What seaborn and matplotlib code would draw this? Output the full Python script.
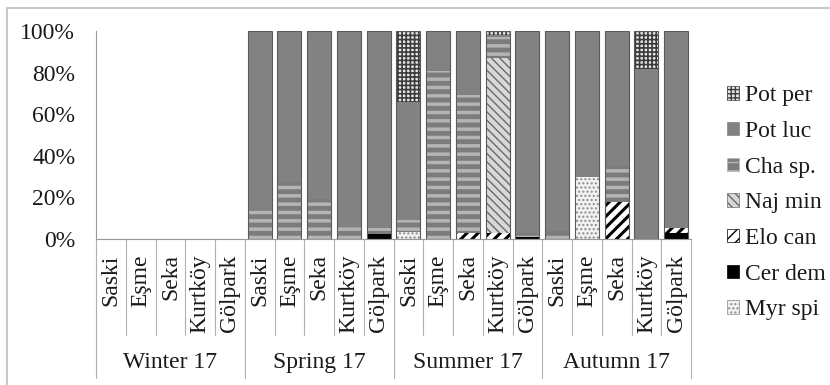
import numpy as np
import pandas as pd
import matplotlib as mpl
import matplotlib.pyplot as plt
import seaborn as sns
from matplotlib.patches import Patch
from matplotlib.lines import Line2D

### DATA ###
seasons = ["Winter 17", "Spring 17", "Summer 17", "Autumn 17"]
sites = ["Saski", "Eşme", "Seka", "Kurtköy", "Gölpark"]

# percent of each taxon, 5 sites per season (winter, spring, summer, autumn)
myr_spi = [0, 0, 0, 0, 0,  0, 0, 0, 0, 0,  3.5, 0, 0, 0, 0,  0, 30, 0, 0, 0]
cer_dem = [0, 0, 0, 0, 0,  0, 0, 0, 0, 2.5,  0, 0, 0, 0, 1,  0, 0, 0, 0, 3]
elo_can = [0, 0, 0, 0, 0,  0, 0, 0, 0, 0,  0, 0, 3, 3, 0,  0, 0, 18, 0, 2.5]
naj_min = [0, 0, 0, 0, 0,  0, 0, 0, 0, 0,  0, 0, 0, 84, 0,  0, 0, 0, 0, 0]
cha_sp = [0, 0, 0, 0, 0,  14.5, 27.5, 19, 6, 3,  5.5, 81, 66, 10, 2,  4, 0, 17, 0, 0]
pot_luc = [0, 0, 0, 0, 0,  85.5, 72.5, 81, 94, 94.5,  57, 19, 31, 1, 97,  96, 70, 65, 81.5, 94.5]
pot_per = [0, 0, 0, 0, 0,  0, 0, 0, 0, 0,  34, 0, 0, 2, 0,  0, 0, 0, 18.5, 0]

species = ["Myr spi", "Cer dem", "Elo can", "Naj min", "Cha sp.", "Pot luc", "Pot per"]
values = [myr_spi, cer_dem, elo_can, naj_min, cha_sp, pot_luc, pot_per]

# STYLE PER TAXON: facecolor, hatch, hatch colour, hatch width
styles = {
    "Myr spi": ("#f2f2f2", "....", "#8c8c8c", 1.0),
    "Cer dem": ("#000000", None, "#000000", 1.0),
    "Elo can": ("#ffffff", "///", "#000000", 2.2),
    "Naj min": ("#d8d8d8", "\\\\\\\\", "#6a6a6a", 1.0),
    "Cha sp.": ("#7c7c7c", "--", "#b4b4b4", 2.5),
    "Pot luc": ("#828282", None, "#828282", 1.0),
    "Pot per": ("#e8e8e8", "++++", "#3c3c3c", 1.2),
}

### PLOT ###
sns.set_style("white")
plt.rcParams['font.family'] = ['Liberation Serif', 'DejaVu Serif']
text_color = "#1a1a1a"
axis_color = "#9a9a9a"
fs = 17

fig = plt.figure(figsize=(8.3, 3.85), dpi=100)
ax = fig.add_axes([96 / 830, 1 - 239 / 385, (691 - 96) / 830, (239 - 31) / 385])

n = len(seasons) * len(sites)
pos = np.arange(n)
cum = np.cumsum(np.array(values, dtype=float), axis=0)

# DRAW TOP LAYER FIRST, EACH LOWER CUMULATIVE BAR COVERS THE ONE ABOVE
for i in range(len(species) - 1, -1, -1):
    face, hatch, hcol, hlw = styles[species[i]]
    df = pd.DataFrame({"pos": pos, "val": cum[i]})
    with plt.rc_context({'hatch.linewidth': hlw}):
        sns.barplot(data=df, x="pos", y="val", ax=ax, width=0.8,
                    facecolor=face, edgecolor=hcol, hatch=hatch, linewidth=0)
    for p in ax.patches:
        if getattr(p, "_done", False):
            continue
        p._done = True
        try:
            p.set_hatch_linewidth(hlw)
        except AttributeError:
            pass

# BAR OUTLINES
df = pd.DataFrame({"pos": pos, "val": cum[-1]})
sns.barplot(data=df, x="pos", y="val", ax=ax, width=0.8,
            facecolor="none", edgecolor="#5a5a5a", linewidth=0.8)

ax.set_xlim(-0.5, n - 0.5)
ax.set_ylim(0, 100)
ax.set_yticks([0, 20, 40, 60, 80, 100])
ax.set_yticklabels([f"{v}%" for v in [0, 20, 40, 60, 80, 100]], fontsize=fs, color=text_color)
ax.tick_params(axis="y", length=6, width=0.8, color=axis_color, pad=9)
ax.set_xticks(pos)
ax.set_xticklabels(sites * len(seasons), rotation=90, fontsize=fs, color=text_color, va="top")
ax.tick_params(axis="x", length=0, pad=11)
ax.set_xlabel("")
ax.set_ylabel("")
for s in ["top", "right"]:
    ax.spines[s].set_visible(False)
for s in ["left", "bottom"]:
    ax.spines[s].set_color(axis_color)
    ax.spines[s].set_linewidth(0.8)

# HIERARCHICAL X AXIS: SEPARATORS AND SEASON LABELS
trans = mpl.transforms.blended_transform_factory(ax.transData, ax.transAxes)
for k in range(n + 1):
    x = k - 0.5
    y_end = -0.668 if k % len(sites) == 0 else -0.462
    ax.add_line(Line2D([x, x], [0, y_end], transform=trans, color="#b0b0b0",
                       linewidth=0.8, clip_on=False))
for j, season in enumerate(seasons):
    xc = j * len(sites) + (len(sites) - 1) / 2
    ax.text(xc, -0.596, season, transform=trans, ha="center", va="center",
            fontsize=fs, color=text_color)

# LEGEND
handles = []
for name in species[::-1]:
    face, hatch, hcol, hlw = styles[name]
    handles.append(Patch(facecolor=face, edgecolor=hcol, hatch=hatch, linewidth=0.5, label=name))
leg = fig.legend(handles=handles, loc="upper left", bbox_to_anchor=(718 / 830, 1 - 76 / 385),
                 frameon=False, fontsize=fs, handlelength=0.5, handleheight=0.5,
                 handletextpad=0.25, labelspacing=0.62, borderaxespad=0)
for t in leg.get_texts():
    t.set_color(text_color)

# OUTER FRAME
fig.add_artist(Line2D([7 / 830, 1], [1 - 8 / 385, 1 - 8 / 385], color="#bdbdbd", linewidth=1.2))
fig.add_artist(Line2D([7 / 830, 7 / 830], [0, 1 - 8 / 385], color="#bdbdbd", linewidth=1.2))

fig.savefig("out.png", dpi=100)
